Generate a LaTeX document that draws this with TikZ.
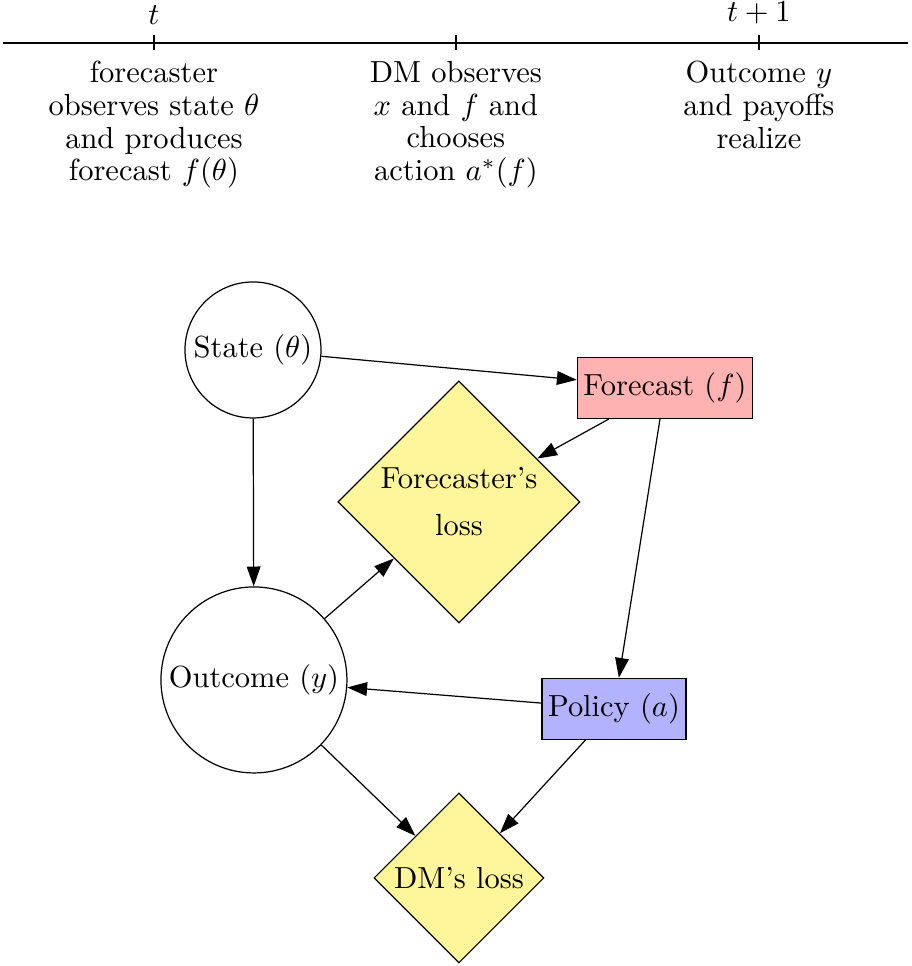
\documentclass[tikz,border=0pt]{standalone}
\usepackage{tikz}
\usetikzlibrary{arrows.meta,shapes}
\definecolor{lossyellow}{RGB}{255,245,155}
\tikzstyle{dedge} = [draw,-{Triangle[length=6.5pt,width=4.5pt]}]
\tikzstyle{tick} = [draw]
\tikzset{
  stage/.style = {align=center, inner sep=0pt, anchor=north, font=\fontsize{10}{10.7}\selectfont},
  chance/.style = {circle, draw=black, inner sep=0pt},
  choice/.style = {rectangle, draw=black, inner sep=2pt, minimum height=20pt},
  loss/.style = {diamond, aspect=1, draw=black, fill=lossyellow, inner sep=0pt, align=center},
}

\begin{document}
\begin{tikzpicture}
  \useasboundingbox (0,0) rectangle (10.5,-11.13);

  % timeline
  \coordinate (tl) at (0.035,-0.495);
  \coordinate (tr) at (10.46,-0.495);
  \draw (tl) -- (tr);
  \foreach \x/\n in {1.774/a,5.253/b,8.744/c}{
    \coordinate (tick\n) at (\x,-0.495);
    \path[tick] ([yshift=0.09cm]tick\n) -- ([yshift=-0.08cm]tick\n);
  }
  \node[above] (tlab) at ([yshift=0.09cm]ticka) {$t$};
  \node[above] (tpluslab) at ([yshift=0.09cm]tickc) {$t+1$};
  \node[stage] (stagea) at (1.774,-0.70) {forecaster\\observes state $\theta$\\and produces\\forecast $f(\theta)$};
  \node[stage] (stageb) at (5.253,-0.70) {DM observes\\$x$ and $f$ and\\chooses\\action $a^{*}(f)$};
  \node[stage] (stagec) at (8.744,-0.70) {Outcome $y$\\and payoffs\\realize};

  % influence diagram
  \node[chance, minimum size=1.567cm] (state) at (2.915,-4.032) {State ($\theta$)};
  \node[choice, fill=red!30] (forecast) at (7.661,-4.470) {Forecast ($f$)};
  \node[loss, minimum size=2.79cm, font=\fontsize{10}{15.4}\selectfont] (floss) at (5.288,-5.783) {Forecaster's\\loss};
  \node[chance, minimum size=2.143cm] (outcome) at (2.926,-7.834) {Outcome ($y$)};
  \node[choice, fill=blue!30] (policy) at (7.074,-8.168) {Policy ($a$)};
  \node[loss, minimum size=1.959cm] (dmloss) at (5.288,-10.115) {DM's loss};

  \path[dedge] (state) -- (forecast);
  \path[dedge] (forecast) -- (floss);
  \path[dedge] (forecast) -- (policy);
  \path[dedge] (state) -- (outcome);
  \path[dedge] (outcome) -- (floss);
  \path[dedge] (policy) -- (outcome);
  \path[dedge] (outcome) -- (dmloss);
  \path[dedge] (policy) -- (dmloss);
\end{tikzpicture}
\end{document}
